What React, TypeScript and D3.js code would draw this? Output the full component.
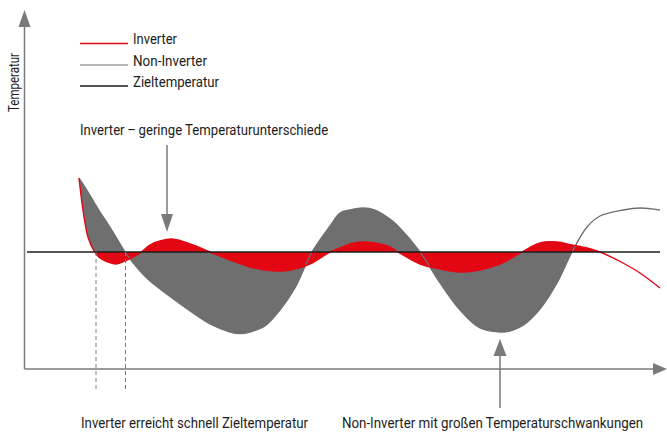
import * as d3 from 'd3';
import { useLayoutEffect, useRef, useState } from 'react';

const W = 667;
const H = 434;

// time (arbitrary units) and temperature (arbitrary units)
const times = [54, 58, 63, 69, 75, 83, 91, 100, 115, 125, 135, 147, 168, 185, 205, 215, 225, 240, 255, 270, 287, 305, 315, 325, 338, 350, 365, 373, 395, 415, 435, 455, 475, 485, 497, 515, 532, 547, 562, 575, 598, 615, 635];
const nonInverter = [191, 185, 177, 167, 157, 145, 132, 117, 98, 88, 80, 71, 56, 45, 37, 35.5, 37, 43, 59, 81, 117, 143, 156, 159, 161, 159, 150, 143, 117, 86, 59, 41, 37, 38, 43, 60, 86, 117, 142, 153, 159, 161, 159];
const inverter = [191, 159, 132, 118, 111, 107, 105, 108, 116, 124, 128, 130, 124, 117, 109, 105.5, 102, 99, 98, 100, 106, 117, 121, 125, 127, 126, 122, 117, 105, 100, 97, 99, 105, 110, 117, 126, 127, 124, 121, 117, 106, 96, 81];
const targetTemp = 117;
const targetStart = 2;
const targetEnd = 635;

// where the curves reach the target
const inverterReach = 71;
const nonInverterReach = 100.5;
const grayFillEnd = 547;
const redFillStart = 70;
const redFillEnd = 575;

const legendLabels = ['Inverter', 'Non-Inverter', 'Zieltemperatur'];
const legendColors = ['#e30613', '#9d9d9c', '#1d1d1b'];
const legendWidths = [44, 74, 86];

const yLabel = 'Temperatur';
const topNote = 'Inverter\u2009\u2013\u2009geringe Temperaturunterschiede';
const leftNote = 'Inverter erreicht schnell Zieltemperatur';
const rightNote = 'Non-Inverter mit großen Temperaturschwankungen';

const RED = '#e30613';
const GRAY = '#706f6f';
const AXIS = '#7a7a79';
const TEXT = '#1d1d1b';
const FONT = "'Liberation Sans Narrow', Roboto, 'Liberation Sans', sans-serif";

interface Pt {
  t: number;
  inv: number;
  non: number;
}

const pts: Pt[] = times.map((t, i) => ({ t, inv: inverter[i], non: nonInverter[i] }));

// text squeezed horizontally to a given width (condensed look)
function FitText(props: { x: number; y: number; width: number; size: number; rotate?: number; children: string }) {
  const ref = useRef<SVGTextElement>(null);
  const [k, setK] = useState(0.85);
  useLayoutEffect(() => {
    const n = ref.current ? ref.current.getComputedTextLength() : 0;
    if (n > 0) setK(props.width / n);
  }, [props.width, props.children, props.size]);
  const rot = props.rotate ? ` rotate(${props.rotate})` : '';
  return (
    <text
      ref={ref}
      transform={`translate(${props.x},${props.y})${rot} scale(${k},1)`}
      fontSize={props.size}
      fill={TEXT}
    >
      {props.children}
    </text>
  );
}

export default function App() {
  const x = d3.scaleLinear().domain([0, 630]).range([25, 655]);
  const y = d3.scaleLinear().domain([0, 360]).range([369, 9]);

  const curve = d3.curveCatmullRom.alpha(0.5);
  const lineNon = d3.line<Pt>().x((d) => x(d.t)).y((d) => y(d.non)).curve(curve);
  const lineInv = d3.line<Pt>().x((d) => x(d.t)).y((d) => y(d.inv)).curve(curve);
  const grayArea = d3
    .area<Pt>()
    .x((d) => x(d.t))
    .y0((d) => y(d.inv))
    .y1((d) => y(d.non))
    .curve(curve);
  const redArea = d3
    .area<Pt>()
    .x((d) => x(d.t))
    .y0(() => y(targetTemp))
    .y1((d) => y(d.inv))
    .curve(curve);

  const x0 = x(0) - 0.5;
  const yAxisBottom = y(0);
  const xAxisEnd = 667;

  const downX = x(142);
  const upX = x(475);

  return (
    <svg
      width={W}
      height={H}
      style={{ position: 'fixed', left: 0, top: 0, background: '#fff' }}
      fontFamily={FONT}
    >
      <defs>
        <clipPath id="grayClip">
          <rect x={0} y={0} width={x(grayFillEnd)} height={H} />
        </clipPath>
        <clipPath id="redClip">
          <rect x={x(redFillStart)} y={0} width={x(redFillEnd) - x(redFillStart)} height={H} />
        </clipPath>
      </defs>

      {/* fills */}
      <path d={grayArea(pts) ?? ''} fill={GRAY} clipPath="url(#grayClip)" />
      <path d={redArea(pts) ?? ''} fill={RED} clipPath="url(#redClip)" />

      {/* curves */}
      <path d={lineNon(pts) ?? ''} fill="none" stroke={GRAY} strokeWidth={1.3} />
      <path d={lineInv(pts) ?? ''} fill="none" stroke={RED} strokeWidth={1.4} />

      {/* target */}
      <line
        x1={x(targetStart)}
        x2={x(targetEnd)}
        y1={y(targetTemp)}
        y2={y(targetTemp)}
        stroke={TEXT}
        strokeWidth={1.5}
      />

      {/* dashed markers */}
      {[inverterReach, nonInverterReach].map((t) => (
        <line
          key={t}
          x1={x(t)}
          x2={x(t)}
          y1={y(targetTemp)}
          y2={390}
          stroke={AXIS}
          strokeWidth={1}
          strokeDasharray="4 3"
        />
      ))}

      {/* axes */}
      <line x1={x0} x2={x0} y1={yAxisBottom} y2={26} stroke={AXIS} strokeWidth={1.5} />
      <path d={`M${x0},10L${x0 - 6},27L${x0 + 6},27Z`} fill={AXIS} />
      <line x1={x0} x2={654} y1={yAxisBottom} y2={yAxisBottom} stroke={AXIS} strokeWidth={1.5} />
      <path
        d={`M${xAxisEnd},${yAxisBottom}L${xAxisEnd - 14},${yAxisBottom - 6}L${xAxisEnd - 14},${yAxisBottom + 6}Z`}
        fill={AXIS}
      />

      {/* annotation arrows */}
      <line x1={downX} x2={downX} y1={145} y2={215} stroke={AXIS} strokeWidth={1.5} />
      <path d={`M${downX},232L${downX - 6},214L${downX + 6},214Z`} fill={AXIS} />
      <line x1={upX} x2={upX} y1={354} y2={408} stroke={AXIS} strokeWidth={1.5} />
      <path d={`M${upX},339L${upX - 6.5},356L${upX + 6.5},356Z`} fill={AXIS} />

      {/* legend */}
      {legendLabels.map((label, i) => {
        const ly = [43.5, 65, 86][i];
        return (
          <g key={label}>
            <line x1={80} x2={128} y1={ly} y2={ly} stroke={legendColors[i]} strokeWidth={1.3} />
            <FitText x={133} y={[44, 66, 87][i]} width={legendWidths[i]} size={14.5}>
              {label}
            </FitText>
          </g>
        );
      })}

      {/* labels */}
      <FitText x={19} y={112} rotate={-90} width={59} size={14.5}>
        {yLabel}
      </FitText>
      <FitText x={80} y={135} width={248} size={15}>
        {topNote}
      </FitText>
      <FitText x={81} y={428} width={227} size={14.5}>
        {leftNote}
      </FitText>
      <FitText x={342} y={428} width={301} size={14.5}>
        {rightNote}
      </FitText>
    </svg>
  );
}
